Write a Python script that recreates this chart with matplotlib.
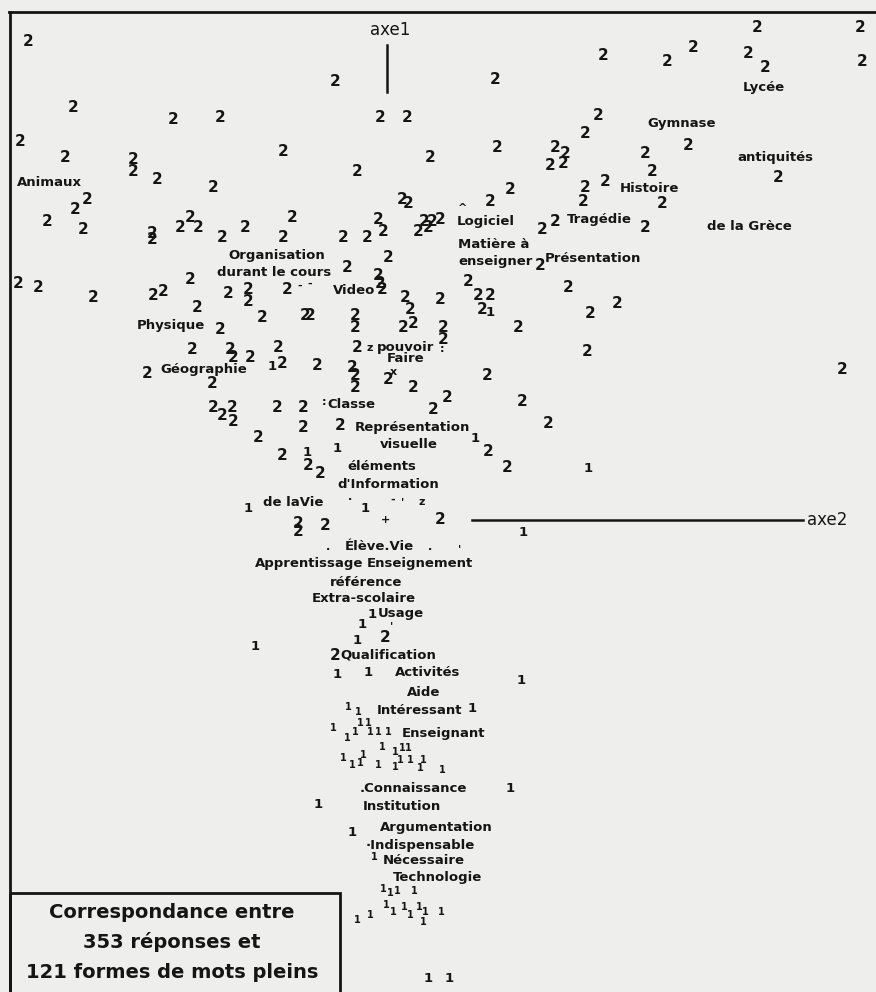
import matplotlib.pyplot as plt
from matplotlib.patches import Rectangle

# correspondence map, in page pixels (x right, y down)

# points marked "2"
twos_x = [28, 335, 73, 173, 220, 380, 407, 20, 65, 133, 133, 157, 283, 357, 213, 430,
          87, 75, 47, 83, 152, 152, 180, 190, 198, 245, 222, 292, 283, 343, 367, 378,
          383, 402, 408, 418, 424, 432, 440, 428,
          757, 860, 693, 603, 667, 748, 765, 862, 495, 598, 585, 497, 555, 565, 550, 563,
          645, 688, 652, 778, 510, 490, 585, 583, 605, 662, 542, 555, 645,
          540, 468, 478, 490, 482, 568, 590, 617, 443, 443, 518, 587, 842, 487, 447, 522,
          548, 488, 507, 433,
          388, 347, 378, 380, 382, 287, 228, 248, 248,
          18, 38, 93, 153, 163, 190, 197, 262, 305, 310, 355, 355, 405, 410, 403, 413, 440,
          220, 192, 230, 233, 250, 278, 282, 317, 357, 352, 355, 355, 388, 413,
          147, 212, 213, 222, 232, 233, 277, 303, 303, 340, 258, 282, 308, 320,
          440, 298, 298, 325, 385, 335]
twos_y = [42, 82, 107, 120, 118, 118, 118, 142, 157, 160, 172, 180, 152, 172, 187, 158,
          200, 210, 222, 230, 233, 240, 228, 218, 228, 227, 238, 218, 237, 237, 237, 220,
          232, 200, 203, 232, 222, 222, 220, 228,
          28, 28, 47, 55, 62, 53, 67, 62, 80, 115, 133, 148, 148, 153, 165, 163,
          153, 145, 172, 178, 190, 202, 188, 202, 182, 203, 230, 222, 227,
          265, 282, 295, 295, 310, 288, 313, 303, 328, 340, 328, 352, 370, 375, 397, 402,
          423, 452, 467, 410,
          257, 268, 275, 283, 290, 290, 293, 290, 302,
          283, 287, 297, 295, 292, 280, 307, 318, 315, 316, 315, 328, 298, 310, 327, 323, 300,
          330, 350, 350, 358, 358, 347, 363, 365, 347, 367, 375, 387, 380, 388,
          373, 383, 408, 415, 407, 422, 408, 407, 427, 425, 438, 455, 465, 473,
          520, 524, 532, 525, 637, 655]

# points marked "1"
ones_x = [272, 490, 475, 307, 337, 588, 248, 365, 523, 372, 362, 357, 255, 337, 368,
          521, 472, 510, 318, 352, 428, 449]
ones_y = [367, 313, 438, 452, 448, 468, 508, 508, 532, 615, 625, 640, 647, 675, 673,
          680, 708, 788, 805, 832, 978, 978]

# small, crowded "1" near the bottom of axe 1
small_ones_x = [348, 358, 333, 347, 355, 360, 368, 370, 378, 388, 343, 352, 360, 363,
                378, 382, 395, 400, 402, 408, 410, 420, 423, 442, 395, 374, 383, 390,
                397, 414, 370, 386, 393, 404, 410, 419, 425, 441, 357, 423]
small_ones_y = [707, 712, 728, 738, 732, 723, 723, 732, 732, 732, 758, 765, 763, 755,
                765, 747, 752, 760, 748, 748, 760, 768, 760, 770, 767, 857, 889, 893,
                891, 891, 915, 905, 912, 907, 915, 907, 912, 912, 920, 922]

# word forms
words = ["Animaux", "Lycée", "Gymnase", "antiquités", "Histoire", "Logiciel", "Tragédie",
         "de la Grèce", "Matière à", "enseigner", "Présentation", "Organisation",
         "durant le cours", "Video", "Physique", "pouvoir", "Faire", "Géographie",
         "Classe", "Représentation", "visuelle", "éléments", "d'Information", "de laVie",
         "Élève.Vie", "Apprentissage", "Enseignement", "référence", "Extra-scolaire",
         "Usage", "Qualification", "Activités", "Aide", "Intéressant", "Enseignant",
         ".Connaissance", "Institution", "Argumentation", "·Indispensable", "Nécessaire",
         "Technologie"]
words_x = [17, 743, 647, 737, 620, 457, 567, 707, 458, 458, 545, 228, 217, 333, 137, 377,
           387, 160, 327, 355, 380, 347, 337, 263, 345, 255, 367, 330, 312, 378, 340, 395,
           407, 377, 402, 360, 363, 380, 366, 383, 393]
words_y = [183, 88, 123, 158, 188, 221, 220, 227, 244, 261, 258, 256, 272, 290, 325, 347,
           359, 370, 404, 428, 445, 467, 484, 502, 547, 563, 563, 582, 598, 613, 655, 673,
           693, 710, 733, 788, 807, 827, 845, 860, 878]

# leftover specks of overprinted glyphs
marks = ["^", "-", "-", "z", ":", "x", ":", "·", "-", "'", "z", "·", "·", "'", "+", "'"]
marks_x = [463, 300, 310, 370, 442, 393, 324, 350, 393, 403, 422, 328, 430, 460, 385, 392]
marks_y = [208, 286, 284, 348, 349, 372, 402, 500, 500, 502, 502, 550, 550, 549, 520, 626]

ink = '#151515'
paper = '#eeeeec'

fig = plt.figure(figsize=(8.76, 9.92), dpi=100, facecolor=paper)
ax = fig.add_axes([0, 0, 1, 1])
ax.set_xlim(0, 876)
ax.set_ylim(992, 0)
ax.axis('off')

# page frame
ax.plot([9, 876], [12, 12], color=ink, lw=2)
ax.plot([10, 10], [12, 992], color=ink, lw=2)

# axes of the map
ax.plot([387, 387], [45, 92], color=ink, lw=1.8)
ax.text(390, 30, "axe1", fontsize=12, color=ink, ha='center', va='center')
ax.plot([472, 803], [520, 520], color=ink, lw=1.8)
ax.text(807, 520, "axe2", fontsize=12, color=ink, ha='left', va='center')

for x, y in zip(twos_x, twos_y):
    ax.text(x, y, "2", fontsize=11, fontweight='bold', color=ink, ha='center', va='center')
for x, y in zip(ones_x, ones_y):
    ax.text(x, y, "1", fontsize=9.5, fontweight='bold', color=ink, ha='center', va='center')
for x, y in zip(small_ones_x, small_ones_y):
    ax.text(x, y, "1", fontsize=7, fontweight='bold', color=ink, ha='center', va='center')
for w, x, y in zip(words, words_x, words_y):
    ax.text(x, y, w, fontsize=9.5, fontweight='bold', color=ink, ha='left', va='center')
for m, x, y in zip(marks, marks_x, marks_y):
    ax.text(x, y, m, fontsize=8, fontweight='bold', color=ink, ha='center', va='center')

# caption box
ax.add_patch(Rectangle((10, 893), 330, 110, fill=False, edgecolor=ink, lw=2, clip_on=False))
caption = ["Correspondance entre", "353 réponses et", "121 formes de mots pleins"]
caption_y = [912, 942, 972]
for line, y in zip(caption, caption_y):
    ax.text(172, y, line, fontsize=14, fontweight='bold', color=ink, ha='center', va='center')

fig.savefig("out.png", dpi=100, facecolor=paper)
